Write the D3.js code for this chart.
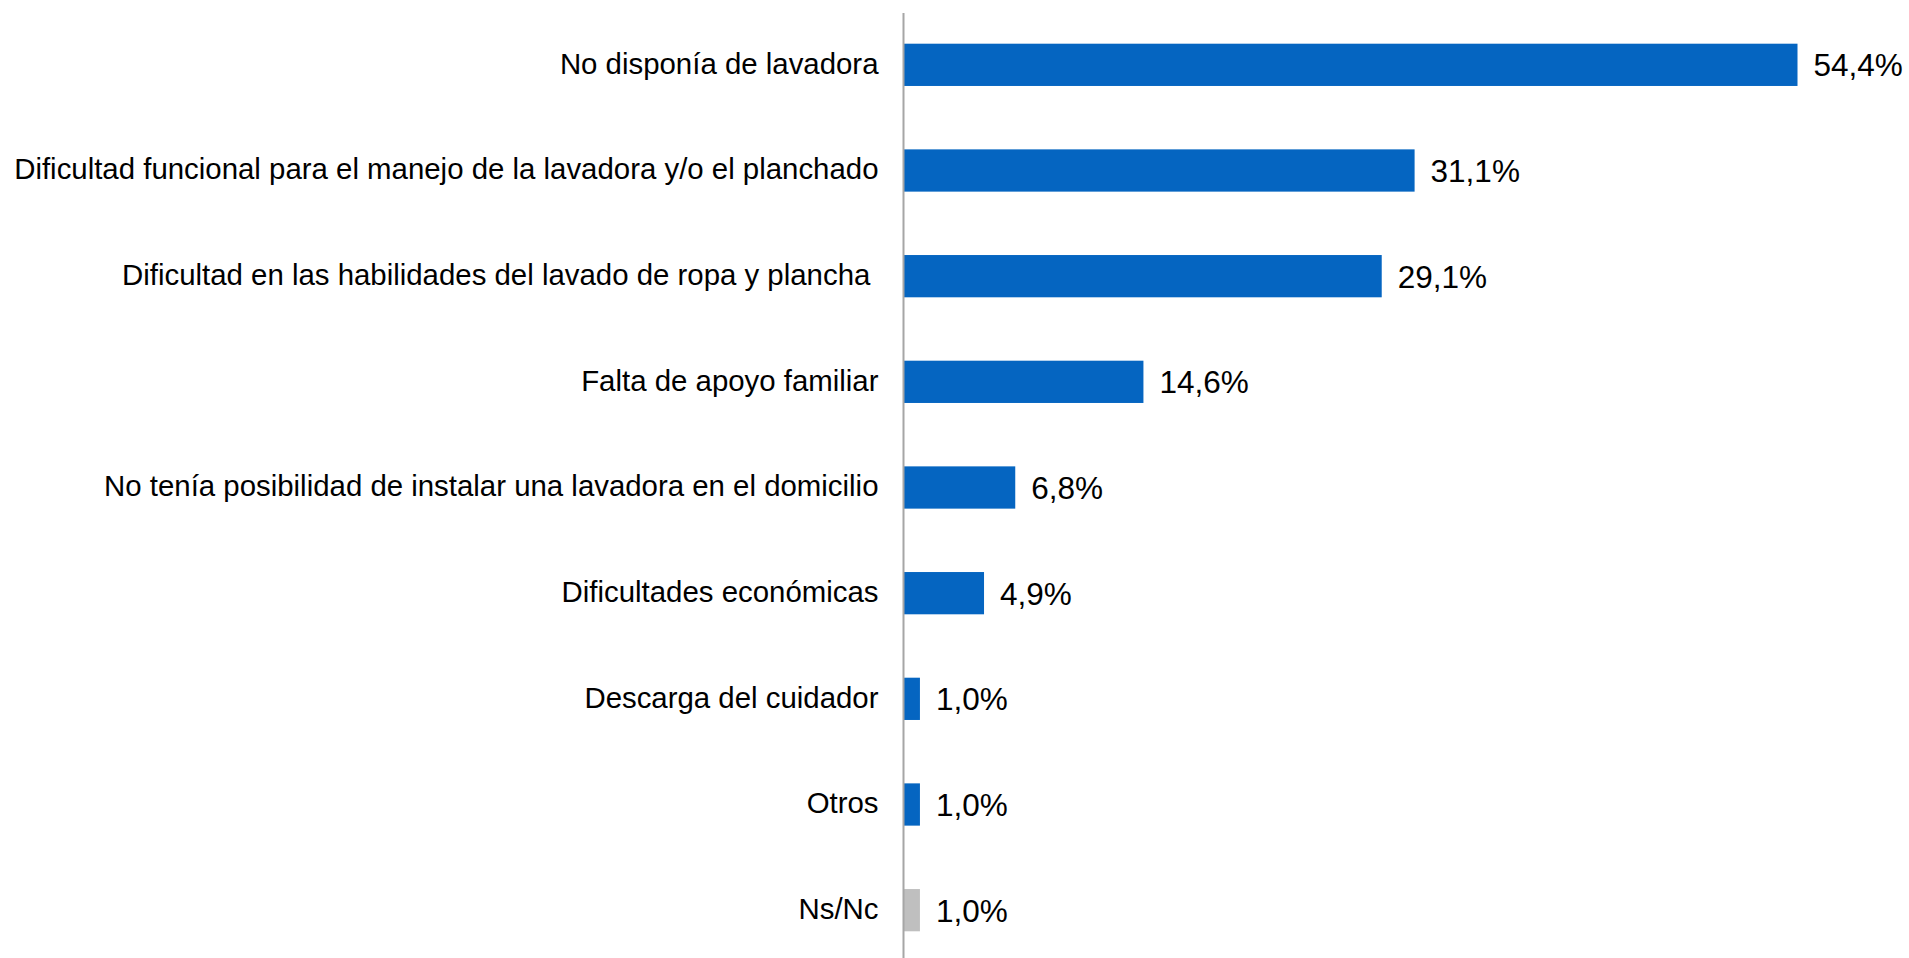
<!DOCTYPE html>
<html>
<head>
<meta charset="utf-8">
<script src="https://cdn.jsdelivr.net/npm/d3@7"></script>
<style>
  html, body { margin: 0; padding: 0; background: #fff; }
  svg { display: block; }
</style>
</head>
<body>
<script>
// Motivos (porcentaje de respuestas)
const categories = [
  "No disponía de lavadora",
  "Dificultad funcional para el manejo de la lavadora y/o el planchado",
  "Dificultad en las habilidades del lavado de ropa y plancha\u00a0",
  "Falta de apoyo familiar",
  "No tenía posibilidad de instalar una lavadora en el domicilio",
  "Dificultades económicas",
  "Descarga del cuidador",
  "Otros",
  "Ns/Nc"
];
const values = [54.4, 31.1, 29.1, 14.6, 6.8, 4.9, 1.0, 1.0, 1.0];
const valueLabels = ["54,4%", "31,1%", "29,1%", "14,6%", "6,8%", "4,9%", "1,0%", "1,0%", "1,0%"];
const isNoAnswer = [false, false, false, false, false, false, false, false, true];

const W = 1909, H = 958;
const axisX = 903.5;

const svg = d3.select("body").append("svg")
  .attr("width", W).attr("height", H);

const x = d3.scaleLinear().domain([0, 54.4]).range([axisX, 1797.5]);
const y = d3.scaleBand().domain(categories).range([12, 963]).paddingInner(0.6).paddingOuter(0.3);

const rows = categories.map((c, i) => ({ c, v: values[i], lab: valueLabels[i], na: isNoAnswer[i] }));

// Barras
svg.selectAll("rect.bar").data(rows).enter().append("rect")
  .attr("class", "bar")
  .attr("x", x(0))
  .attr("y", d => y(d.c))
  .attr("width", d => x(d.v) - x(0))
  .attr("height", y.bandwidth())
  .attr("fill", d => d.na ? "#BFBFBF" : "#0565C1");

// Etiquetas de categoría
svg.selectAll("text.cat").data(rows).enter().append("text")
  .attr("class", "cat")
  .attr("x", axisX - 25)
  .attr("y", d => y(d.c) + y.bandwidth() / 2)
  .attr("dy", "0.3em")
  .attr("text-anchor", "end")
  .attr("font-family", "'Liberation Sans', Arial, sans-serif")
  .attr("font-size", 29.4)
  .attr("fill", "#000")
  .style("white-space", "pre")
  .text(d => d.c);

// Etiquetas de valor
svg.selectAll("text.val").data(rows).enter().append("text")
  .attr("class", "val")
  .attr("x", d => x(d.v) + 16)
  .attr("y", d => y(d.c) + y.bandwidth() / 2)
  .attr("dy", "0.37em")
  .attr("font-family", "'Liberation Sans', Arial, sans-serif")
  .attr("font-size", 31.5)
  .attr("fill", "#000")
  .text(d => d.lab);

// Eje vertical
svg.append("line")
  .attr("x1", axisX).attr("x2", axisX)
  .attr("y1", 13).attr("y2", H)
  .attr("stroke", "#A6A6A6")
  .attr("stroke-width", 2);
</script>
</body>
</html>
